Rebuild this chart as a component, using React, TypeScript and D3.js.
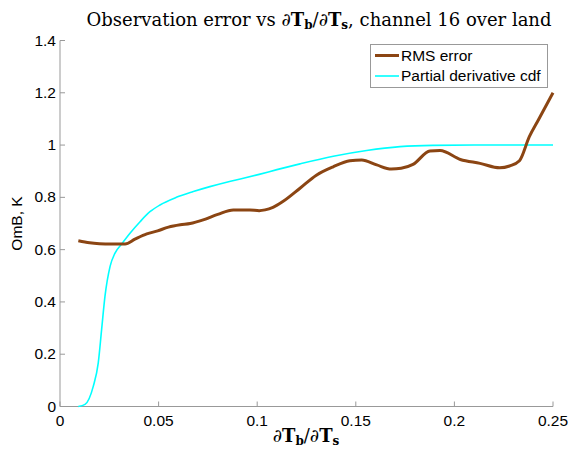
import * as d3 from "d3";

// RMS error of OmB against the partial derivative
const rmsX = [0.0093, 0.015, 0.02, 0.026, 0.033, 0.038, 0.044, 0.0495, 0.055, 0.061, 0.066, 0.0726, 0.08, 0.0879, 0.0963, 0.101, 0.104, 0.108, 0.113, 0.1217, 0.13, 0.1385, 0.147, 0.153, 0.1606, 0.168, 0.173, 0.179, 0.1876, 0.1927, 0.203, 0.213, 0.223, 0.228, 0.233, 0.238, 0.2425, 0.25];
const rmsY = [0.634, 0.626, 0.623, 0.622, 0.622, 0.64, 0.66, 0.672, 0.686, 0.695, 0.70, 0.714, 0.735, 0.752, 0.752, 0.749, 0.752, 0.762, 0.784, 0.835, 0.885, 0.917, 0.940, 0.943, 0.924, 0.908, 0.911, 0.926, 0.977, 0.979, 0.945, 0.930, 0.913, 0.920, 0.940, 1.032, 1.095, 1.2];

// cumulative distribution of the partial derivative
const cdfX = [0.0093, 0.0127, 0.0169, 0.0194, 0.0211, 0.0228, 0.0254, 0.0279, 0.0313, 0.0355, 0.0406, 0.0456, 0.0507, 0.059, 0.0676, 0.076, 0.0845, 0.093, 0.101, 0.11, 0.1217, 0.1386, 0.1555, 0.1724, 0.189, 0.21, 0.23, 0.25];
const cdfY = [0, 0.008, 0.078, 0.167, 0.294, 0.421, 0.536, 0.587, 0.622, 0.663, 0.707, 0.745, 0.771, 0.80, 0.822, 0.841, 0.858, 0.873, 0.888, 0.906, 0.928, 0.957, 0.979, 0.994, 0.999, 1.0, 1.0, 1.0];

const xTicks = [0, 0.05, 0.1, 0.15, 0.2, 0.25];
const xTickLabels = ["0", "0.05", "0.1", "0.15", "0.2", "0.25"];
const yTicks = [0, 0.2, 0.4, 0.6, 0.8, 1, 1.2, 1.4];
const yTickLabels = ["0", "0.2", "0.4", "0.6", "0.8", "1", "1.2", "1.4"];

const seriesNames = ["RMS error", "Partial derivative cdf"];
const seriesColors = ["#8b4513", "#00ffff"];

const W = 570;
const H = 452;
const left = 60;
const right = 553;
const top = 40.5;
const bottom = 406.5;

export default function App() {
  const x = d3.scaleLinear().domain([0, 0.25]).range([left, right]);
  const y = d3.scaleLinear().domain([0, 1.4]).range([bottom, top]);

  const line = d3
    .line<[number, number]>()
    .x((d) => x(d[0]))
    .y((d) => y(d[1]))
    .curve(d3.curveMonotoneX);

  const rms = rmsX.map((v, i) => [v, rmsY[i]] as [number, number]);
  const cdf = cdfX.map((v, i) => [v, cdfY[i]] as [number, number]);

  const font = "Arial, 'Liberation Sans', sans-serif";
  const serif = "'DejaVu Serif', serif";
  const fs = 15.5;

  return (
    <svg
      width={W}
      height={H}
      style={{ position: "absolute", left: 0, top: 0, background: "#fff" }}
    >
      {/* title */}
      <text x={319} y={26} textAnchor="middle" fontFamily={serif} fontSize={18} fill="#000">
        Observation error vs ∂<tspan fontWeight="bold">T</tspan>
        <tspan fontSize={12} dy={3} fontWeight="bold">b</tspan>
        <tspan dy={-3}>/∂</tspan>
        <tspan fontWeight="bold">T</tspan>
        <tspan fontSize={12} dy={3} fontWeight="bold">s</tspan>
        <tspan dy={-3}>, channel 16 over land</tspan>
      </text>

      {/* axes */}
      <line x1={left} x2={left} y1={top} y2={bottom} stroke="#999" strokeWidth={1} />
      <line x1={left} x2={right} y1={bottom} y2={bottom} stroke="#999" strokeWidth={1} />
      {xTicks.map((t, i) => (
        <g key={"x" + i}>
          <line x1={x(t)} x2={x(t)} y1={bottom} y2={bottom - 5} stroke="#999" />
          <text x={x(t)} y={bottom + 19} textAnchor="middle" fontFamily={font} fontSize={fs} fill="#000">
            {xTickLabels[i]}
          </text>
        </g>
      ))}
      {yTicks.map((t, i) => (
        <g key={"y" + i}>
          <line x1={left} x2={left + 5} y1={y(t)} y2={y(t)} stroke="#999" />
          <text x={left - 4} y={y(t) + 5} textAnchor="end" fontFamily={font} fontSize={fs} fill="#000">
            {yTickLabels[i]}
          </text>
        </g>
      ))}

      {/* axis labels */}
      <text
        transform={`translate(22,${(top + bottom) / 2}) rotate(-90)`}
        textAnchor="middle"
        fontFamily={font}
        fontSize={fs}
        fill="#000"
      >
        OmB, K
      </text>
      <text x={306} y={442} textAnchor="middle" fontFamily={serif} fontSize={18} fill="#000">
        ∂<tspan fontWeight="bold">T</tspan>
        <tspan fontSize={12} dy={3} fontWeight="bold">b</tspan>
        <tspan dy={-3}>/∂</tspan>
        <tspan fontWeight="bold">T</tspan>
        <tspan fontSize={12} dy={3} fontWeight="bold">s</tspan>
      </text>

      {/* series */}
      <path d={line(cdf) ?? ""} fill="none" stroke={seriesColors[1]} strokeWidth={1.6} />
      <path d={line(rms) ?? ""} fill="none" stroke={seriesColors[0]} strokeWidth={3} />

      {/* legend */}
      <rect x={370.5} y={44.5} width={177} height={43} fill="#fff" stroke="#999" />
      {seriesNames.map((name, i) => (
        <g key={name}>
          <line
            x1={375}
            x2={399}
            y1={55.5 + i * 20.5}
            y2={55.5 + i * 20.5}
            stroke={seriesColors[i]}
            strokeWidth={i === 0 ? 3 : 1.6}
          />
          <text x={401} y={60.5 + i * 20.5} fontFamily={font} fontSize={fs} fill="#000">
            {name}
          </text>
        </g>
      ))}
    </svg>
  );
}
